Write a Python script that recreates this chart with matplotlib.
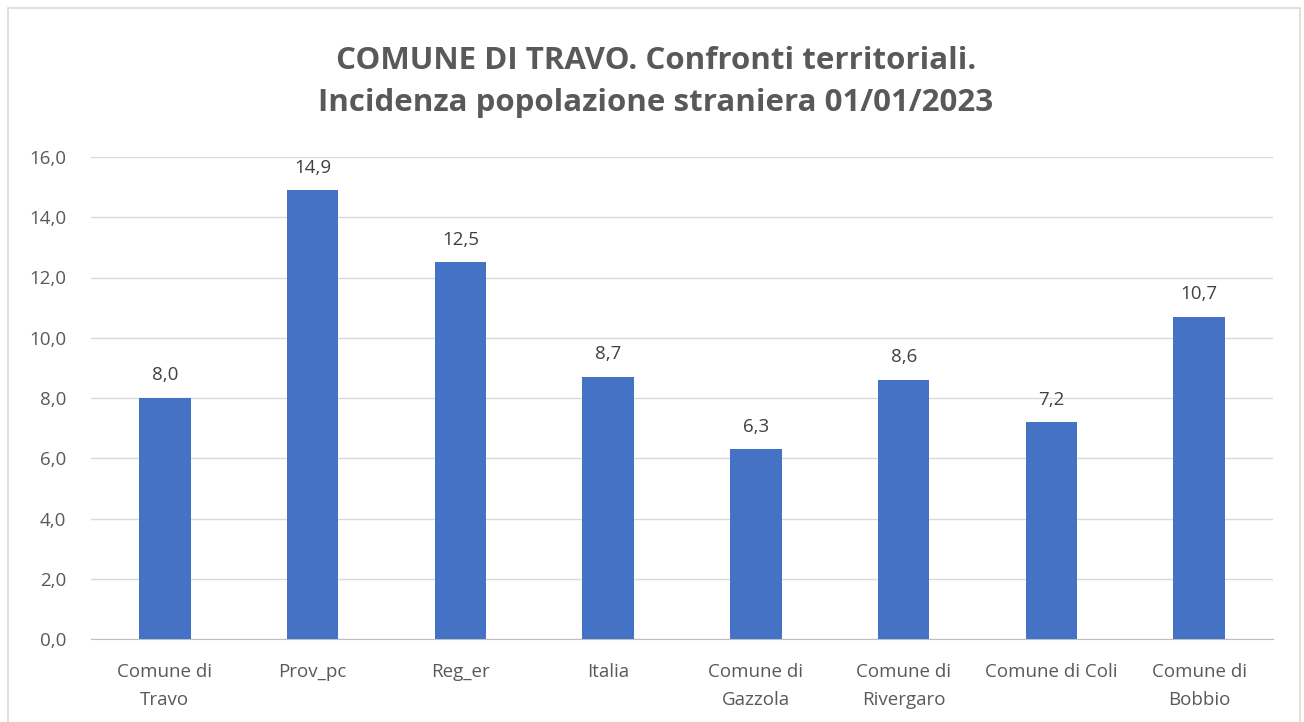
import matplotlib
matplotlib.use("Agg")
import matplotlib.pyplot as plt
from matplotlib.patches import Rectangle

categories = ["Comune di\nTravo", "Prov_pc", "Reg_er", "Italia", "Comune di\nGazzola",
              "Comune di\nRivergaro", "Comune di Coli", "Comune di\nBobbio"]
values = [8.0, 14.9, 12.5, 8.7, 6.3, 8.6, 7.2, 10.7]
yticks = [0, 2, 4, 6, 8, 10, 12, 14, 16]
title = "COMUNE DI TRAVO. Confronti territoriali.\nIncidenza popolazione straniera 01/01/2023"

plt.rcParams['font.family'] = ['Open Sans', 'DejaVu Sans']

fig = plt.figure(figsize=(13.04, 7.22), dpi=100)
fig.patches.append(Rectangle((8/1304, -0.01), 1 - 12/1304, 1 - 8/722 + 0.01,
                             transform=fig.transFigure, fill=False,
                             edgecolor="#D9D9D9", linewidth=1.2))
ax = fig.add_axes([91/1304, 1 - 639/722, (1273 - 91)/1304, (639 - 157)/722])

x = list(range(len(categories)))
bars = ax.bar(x, values, width=0.35, color="#4472C4", zorder=3)
for xi, v in zip(x, values):
    ax.text(xi, v + 0.45, f"{v:.1f}".replace(".", ","), ha="center", va="bottom",
            fontsize=13.5, color="#404040")

ax.set_xlim(-0.5, len(categories) - 0.5)
ax.set_ylim(0, 16)
ax.set_yticks(yticks)
ax.set_yticklabels([f"{t:.1f}".replace(".", ",") for t in yticks], fontsize=13.5, color="#595959")
ax.set_xticks(x)
ax.set_xticklabels(categories, fontsize=13.5, color="#595959", linespacing=1.75)
ax.tick_params(axis="x", length=0, pad=17)
ax.tick_params(axis="y", length=0, pad=18)
ax.grid(axis="y", color="#D9D9D9", linewidth=1, zorder=0)
for s in ["top", "right", "left"]:
    ax.spines[s].set_visible(False)
ax.spines["bottom"].set_color("#BFBFBF")

fig.text(0.503, 1 - 82/722, title, ha="center", va="center", fontsize=22.5,
         fontweight="bold", color="#595959", linespacing=1.5)

fig.savefig("out.png", dpi=100)
